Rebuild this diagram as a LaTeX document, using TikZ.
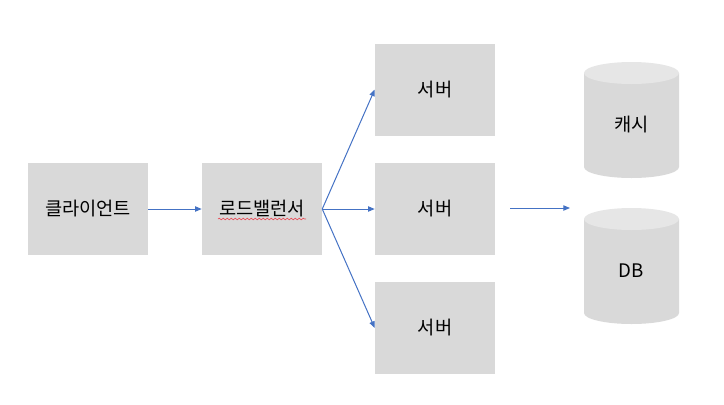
\documentclass[tikz,border=0pt]{standalone}
\usepackage{fontspec}
\setmainfont{Noto Sans CJK KR}
\usetikzlibrary{arrows.meta,decorations.pathmorphing}
\definecolor{boxfill}{HTML}{D9D9D9}
\definecolor{topfill}{HTML}{E6E6E6}
\definecolor{link}{HTML}{4472C4}
\definecolor{squig}{HTML}{E8505B}
\tikzset{
  box/.style={rectangle, fill=boxfill, minimum width=90pt, minimum height=69pt, inner sep=0pt, font=\fontsize{14}{16}\selectfont},
  store/.style={inner sep=0pt, font=\fontsize{14}{16}\selectfont},
  arr/.style={draw=link, line width=0.75pt, -{Triangle[length=5pt, width=4pt]}},
  wavy/.style={draw=squig, line width=0.5pt, decorate, decoration={snake, segment length=3pt, amplitude=0.6pt}}
}

\begin{document}
\begin{tikzpicture}[x=0.75pt, y=-0.75pt]
\useasboundingbox (0,0) rectangle (724,404);
\node[box] (client) at (88,209) {클라이언트};
\node[box] (lb) at (262,209) {로드밸런서};
\foreach \n/\y in {s1/89.5, s2/209, s3/328}
  \node[box] (\n) at (435,\y) {서버};
% cache and db drums
\foreach \n/\yt/\yb/\ty/\lab in {cache/73/167/125/캐시, db/219/313/271/DB} {
  \fill[boxfill] (584,\yt) -- (584,\yb) arc[start angle=180, end angle=0, x radius=47.5, y radius=11] -- (679,\yt) -- cycle;
  \fill[topfill] (631.5,\yt) ellipse[x radius=47.5, y radius=11];
  \node[store] (\n) at (631.5,\ty) {\lab};
}
\draw[wavy] (218,219) -- (306,219);
\draw[arr] (client) -- (lb);
\foreach \n in {s1, s2, s3}
  \draw[arr] (lb.east) -- (\n.west);
\coordinate (s2out) at (510,208);
\coordinate (dbin) at (570,208);
\draw[arr] (s2out) -- (dbin);
\end{tikzpicture}
\end{document}
